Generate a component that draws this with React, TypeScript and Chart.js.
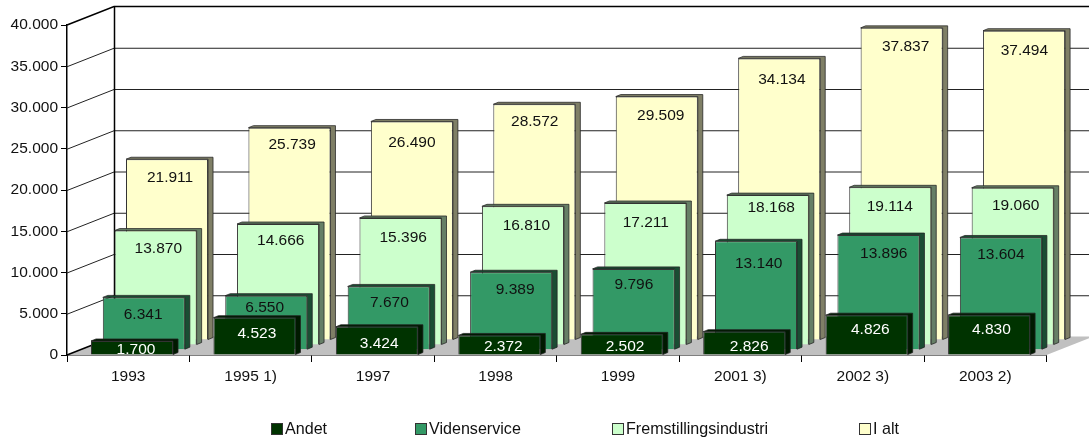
import React, { useEffect, useRef } from "react";
import { Chart, registerables } from "chart.js";

Chart.register(...registerables);

const years = ["1993", "1995 1)", "1997", "1998", "1999", "2001 3)", "2002 3)", "2003 2)"];
const andet = [1700, 4523, 3424, 2372, 2502, 2826, 4826, 4830];
const videnservice = [6341, 6550, 7670, 9389, 9796, 13140, 13896, 13604];
const fremstilling = [13870, 14666, 15396, 16810, 17211, 18168, 19114, 19060];
const iAlt = [21911, 25739, 26490, 28572, 29509, 34134, 37837, 37494];

const FONT = '"Liberation Sans", Arial, sans-serif';
const FONT_SIZE = 15.5;
const LEGEND_FONT_SIZE = 16.1;
const W = 1089;
const H = 438;
const fmt = (v: number) => String(v).replace(/\B(?=(\d{3})+$)/g, ".");

// depth of the 3D box
const WALL_DX = 47;
const WALL_DY = -18.5;
// per-series shift along the depth axis
const SHIFT_X = [3.8, 15.6, 27.4, 38.8];
const SHIFT_Y = [0, -5.3, -10, -15];
const SIDE_DX = 5;
const SIDE_DY = -2;
const SIDE_COLORS = ["#001a00", "#1a4d33", "#667f66", "#7f7f66"];
const LABEL_COLORS = ["#ffffff", "#111111", "#111111", "#111111"];
const LEGEND_X = [271, 415, 612, 859];
// the value labels were placed by hand in the original chart:
// distance below the top of each bar, and sideways from its centre
const LABEL_DROP = [
  [8.4, 16, 17.3, 11.6, 12.4, 15, 15, 15],
  [17.3, 11.6, 16.6, 17, 15.7, 22.3, 18.3, 17],
  [18.6, 17, 19.6, 19, 19.4, 12.3, 19.4, 18.4],
  [18, 17.3, 21, 17.6, 19.4, 21, 19, 20],
];
const LABEL_SIDE = [
  [4, 2.4, 2.3, 4, 3.3, 5, 3.7, 2.3],
  [-0.7, -1.6, 0.7, 4, 0.4, 2.7, 5.3, 0],
  [2.7, 2.7, 2.7, 3.4, 0.4, 3.4, -0.4, 3],
  [3, 2.7, 0, 0.4, 4, 2.7, 4, 0.3],
];

const threeD = {
  id: "threeD",
  beforeDatasetsDraw(chart: any) {
    const { ctx, chartArea, scales } = chart;
    const y = scales.y;
    const l = chartArea.left;
    const r = chartArea.right;
    const b = y.getPixelForValue(0);
    const t = y.getPixelForValue(40000);
    ctx.save();
    // floor
    ctx.fillStyle = "#c0c0c0";
    ctx.beginPath();
    ctx.moveTo(l, b);
    ctx.lineTo(r, b);
    ctx.lineTo(r + WALL_DX, b + WALL_DY);
    ctx.lineTo(l + WALL_DX, b + WALL_DY);
    ctx.closePath();
    ctx.fill();
    // grid lines, on the side wall and the back wall
    for (let v = 5000; v <= 35000; v += 5000) {
      const p = y.getPixelForValue(v) + 0.5;
      ctx.strokeStyle = "#222222";
      ctx.lineWidth = 1;
      ctx.beginPath();
      ctx.moveTo(l, p);
      ctx.lineTo(l + WALL_DX, p + WALL_DY);
      ctx.lineTo(r + WALL_DX, p + WALL_DY);
      ctx.stroke();
    }
    // wall outline
    ctx.strokeStyle = "#000000";
    ctx.lineWidth = 1.5;
    ctx.beginPath();
    ctx.moveTo(l, t);
    ctx.lineTo(l + WALL_DX, t + WALL_DY);
    ctx.lineTo(r + WALL_DX, t + WALL_DY);
    ctx.stroke();
    ctx.beginPath();
    ctx.moveTo(l + WALL_DX + 0.5, t + WALL_DY);
    ctx.lineTo(l + WALL_DX + 0.5, b + WALL_DY);
    ctx.stroke();
    ctx.beginPath();
    ctx.moveTo(l, b);
    ctx.lineTo(l + WALL_DX, b + WALL_DY);
    ctx.stroke();
    ctx.restore();
  },
  beforeDatasetDraw(chart: any, args: any) {
    const { ctx } = chart;
    const i = args.index;
    ctx.save();
    ctx.translate(SHIFT_X[i], SHIFT_Y[i]);
    ctx.fillStyle = SIDE_COLORS[i];
    ctx.strokeStyle = "#222222";
    ctx.lineWidth = 0.75;
    for (const el of args.meta.data) {
      const x1 = el.x - el.width / 2;
      const x2 = el.x + el.width / 2;
      const top = el.y;
      const base = el.base;
      ctx.beginPath();
      ctx.moveTo(x1, top);
      ctx.lineTo(x1 + SIDE_DX, top + SIDE_DY);
      ctx.lineTo(x2 + SIDE_DX, top + SIDE_DY);
      ctx.lineTo(x2 + SIDE_DX, base + SIDE_DY);
      ctx.lineTo(x2, base);
      ctx.lineTo(x2, top);
      ctx.closePath();
      ctx.fill();
      ctx.stroke();
    }
  },
  afterDatasetDraw(chart: any, args: any) {
    const { ctx } = chart;
    const i = args.index;
    const values = chart.data.datasets[i].data;
    ctx.font = `${FONT_SIZE}px ${FONT}`;
    ctx.textAlign = "center";
    ctx.textBaseline = "middle";
    ctx.fillStyle = LABEL_COLORS[i];
    args.meta.data.forEach((el: any, k: number) => {
      ctx.fillText(fmt(values[k]), el.x + LABEL_SIDE[i][k], el.y + LABEL_DROP[i][k]);
    });
    ctx.restore();
  },
  afterDraw(chart: any) {
    const { ctx } = chart;
    ctx.save();
    ctx.font = `${LEGEND_FONT_SIZE}px ${FONT}`;
    ctx.textAlign = "left";
    ctx.textBaseline = "middle";
    chart.data.datasets.forEach((ds: any, i: number) => {
      ctx.fillStyle = ds.backgroundColor;
      ctx.strokeStyle = "#333333";
      ctx.lineWidth = 1;
      ctx.fillRect(LEGEND_X[i] + 0.5, 423.5, 11, 11);
      ctx.strokeRect(LEGEND_X[i] + 0.5, 423.5, 11, 11);
      ctx.fillStyle = "#111111";
      ctx.fillText(ds.label, LEGEND_X[i] + 14, 430);
    });
    ctx.restore();
  },
};

function barSet(label: string, data: number[], color: string) {
  return {
    label,
    data,
    backgroundColor: color,
    borderColor: "#333333",
    borderWidth: 1,
    clip: false as any,
    grouped: false,
    categoryPercentage: 1,
    barPercentage: 0.67,
  };
}

export default function App() {
  const ref = useRef<HTMLCanvasElement>(null);
  useEffect(() => {
    document.body.style.margin = "0";
    const chart = new Chart(ref.current!, {
      type: "bar",
      data: {
        labels: years,
        datasets: [
          barSet("Andet", andet, "#003300"),
          barSet("Videnservice", videnservice, "#339966"),
          barSet("Fremstillingsindustri", fremstilling, "#ccffcc"),
          barSet("I alt", iAlt, "#ffffcc"),
        ],
      },
      options: {
        responsive: false,
        animation: false,
        layout: { padding: { left: 0, right: 42.5, top: 25, bottom: 0 } },
        plugins: { legend: { display: false }, tooltip: { enabled: false }, title: { display: false } },
        scales: {
          x: {
            grid: { drawOnChartArea: false, color: "#000000", tickLength: 7, tickWidth: 1 },
            border: { color: "#000000", width: 1.5 },
            ticks: { color: "#111111", font: { family: FONT, size: FONT_SIZE }, padding: 5, maxRotation: 0, autoSkip: false },
            afterFit(scale: any) {
              scale.height = H - 355;
            },
          },
          y: {
            min: 0,
            max: 40000,
            grid: { drawOnChartArea: false, color: "#000000", tickLength: 6, tickWidth: 1 },
            border: { color: "#000000", width: 1.5 },
            ticks: {
              stepSize: 5000,
              color: "#111111",
              font: { family: FONT, size: FONT_SIZE },
              padding: 3,
              callback: (v: any) => fmt(Number(v)),
            },
            afterFit(scale: any) {
              scale.width = 67;
            },
          },
        },
      },
      plugins: [threeD as any],
    });
    return () => chart.destroy();
  }, []);
  return <canvas ref={ref} width={W} height={H} style={{ display: "block", width: W, height: H }} />;
}
